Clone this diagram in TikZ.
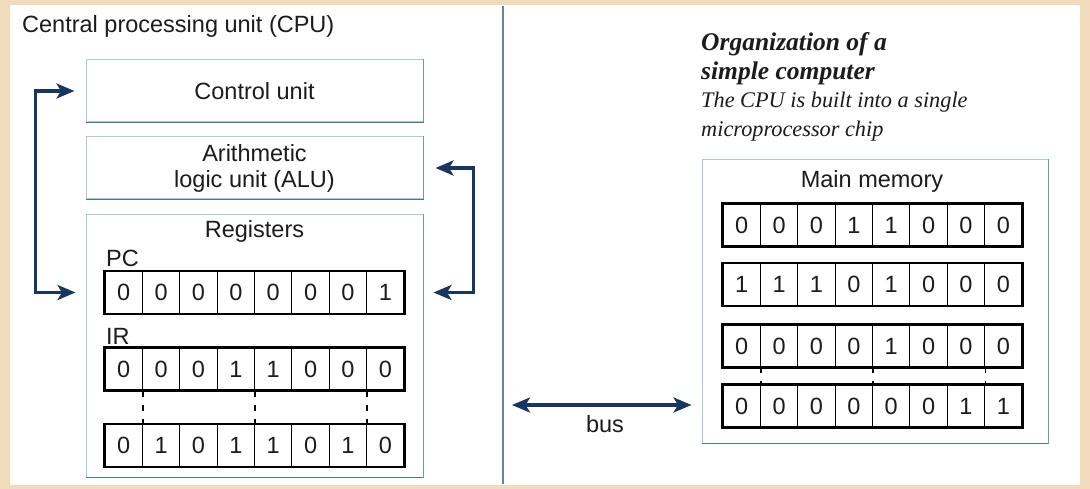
\documentclass[tikz,border=0pt]{standalone}
\usepackage{fontspec}
\setmainfont{Liberation Sans}
\newfontfamily\capfont{Liberation Serif}
\usetikzlibrary{arrows.meta,calc}
\definecolor{paper}{RGB}{240,219,186}
\definecolor{boxedge}{RGB}{172,200,224}
\definecolor{boxbot}{RGB}{72,116,160}
\definecolor{navy}{RGB}{24,54,98}
\definecolor{divider}{RGB}{96,134,172}
\definecolor{ink}{RGB}{28,28,28}
\newcommand\regrow[4]{%
  \foreach \d [count=\i] in {#4} {%
    \node[cell] (#1\i) at ({#2+\i*37.375-18.6875},#3) {\d};}
  \draw[rowframe] (#11.north west) rectangle (#18.south east);}
\begin{document}
\begin{tikzpicture}[x=1pt,y=-1pt,
  lab/.style={font=\fontsize{23.5}{26}\selectfont, text=ink, inner sep=0pt},
  unitbox/.style={draw=boxedge, line width=1pt, minimum width=337pt, minimum height=62pt, inner sep=0pt},
  boxbottom/.style={draw=boxbot, line width=1.6pt},
  boxside/.style={draw=boxbot!60!boxedge, line width=1.1pt},
  cell/.style={draw=black, line width=1.2pt, minimum width=37.375pt, minimum height=42pt, inner sep=0pt, font=\fontsize{23.5}{23.5}\selectfont, text=ink},
  rowframe/.style={draw=black, line width=2pt},
  arr/.style={draw=navy, line width=3.2pt, {Stealth[length=18pt,width=15pt,inset=4.5pt]}-{Stealth[length=18pt,width=15pt,inset=4.5pt]}},
  dotline/.style={draw=black, line width=1.6pt, dash pattern=on 6pt off 8pt},
  memdot/.style={draw=black, line width=1.4pt, dash pattern=on 5pt off 8pt},
  head/.style={font=\capfont\bfseries\itshape\fontsize{25.5}{28}\selectfont, text=ink, inner sep=0pt, anchor=base west},
  sub/.style={font=\capfont\itshape\fontsize{22.3}{28}\selectfont, text=ink, inner sep=0pt, anchor=base west}]
\useasboundingbox (0,0) rectangle (1090,489);
\fill[paper] (0,0) rectangle (1090,489);
\fill[white] (10,5) rectangle (1080,485);
\draw[divider, line width=1.3pt] (503,6) -- (503,484);

% CPU side
\node[lab, anchor=base west] (cputitle) at (22,33) {Central processing unit (CPU)};
\node[unitbox] (cu) at (254.5,91) {};
\node[lab] (cutext) at (254.5,91) {Control unit};
\node[unitbox] (alu) at (254.5,168) {};
\node[lab, align=center] (alutext) at (254.5,168) {Arithmetic\\logic unit (ALU)};
\node[unitbox, minimum height=262pt] (reg) at (254.5,346) {};
\foreach \b in {cu,alu,reg} {
  \draw[boxbottom] (\b.south west) -- (\b.south east);
  \draw[boxside] (\b.north east) -- (\b.south east);}
\node[lab, anchor=base] (regtext) at (254.5,238) {Registers};
\node[lab, anchor=base west] (pclab) at (106,267) {PC};
\node[lab, anchor=base west] (irlab) at (106,344) {IR};
\regrow{pc}{105}{292.5}{0,0,0,0,0,0,0,1}
\regrow{ir}{105}{369}{0,0,0,1,1,0,0,0}
\regrow{rl}{105}{445.5}{0,1,0,1,1,0,1,0}
\foreach \k in {1,4,7} {\draw[dotline] (ir\k.south east) -- (rl\k.north east);}

\draw[arr, shorten <=11pt, shorten >=10pt] (cu.west) -- ++(-50,0) |- (cu.west |- pc1.center);
\draw[arr, shorten <=12pt, shorten >=10pt] (alu.east) -- ++(50,0) |- (alu.east |- pc8.center);

% memory side
\node[head] (h1) at (701,51) {Organization of a};
\node[head] (h2) at (701,80) {simple computer};
\node[sub] (s1) at (701,108) {The CPU is built into a single};
\node[sub] (s2) at (701,137) {microprocessor chip};
\node[unitbox, minimum width=346pt, minimum height=283pt] (mem) at (875,301.5) {};
\draw[boxbottom] (mem.south west) -- (mem.south east);
\draw[boxside] (mem.north east) -- (mem.south east);
\node[lab, anchor=base] (memtext) at (872,188) {Main memory};
\regrow{ma}{723}{225}{0,0,0,1,1,0,0,0}
\regrow{mb}{723}{284.5}{1,1,1,0,1,0,0,0}
\regrow{mc}{723}{346}{0,0,0,0,1,0,0,0}
\regrow{md}{723}{406}{0,0,0,0,0,0,1,1}
\foreach \k in {1,4,7} {\draw[memdot] (mc\k.south east) -- (md\k.north east);}

\coordinate (busl) at (512,405);
\draw[arr, shorten >=10pt] (busl) -- (mem.west |- busl);
\node[lab, anchor=base] (bus) at (605,432) {bus};
\end{tikzpicture}
\end{document}
